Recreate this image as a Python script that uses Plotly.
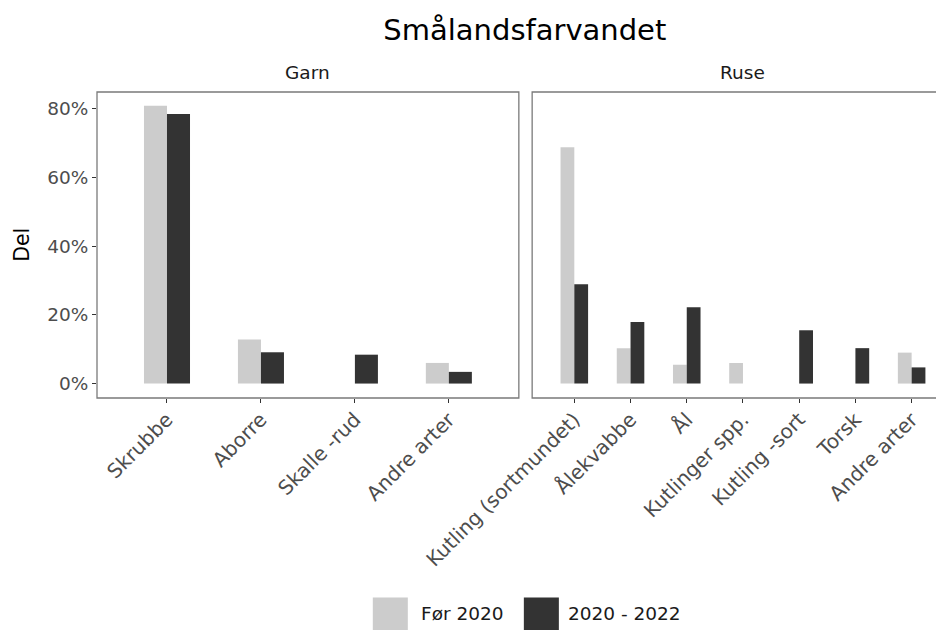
import plotly.graph_objects as go

# Data (share of catch)
GARN_ARTER = ["Skrubbe", "Aborre", "Skalle -rud", "Andre arter"]
GARN_FOR_2020 = [0.808, 0.128, None, 0.060]
GARN_2020_2022 = [0.784, 0.091, 0.084, 0.034]

RUSE_ARTER = ["Kutling (sortmundet)", "Ålekvabbe", "Ål", "Kutlinger spp.",
              "Kutling -sort", "Torsk", "Andre arter"]
RUSE_FOR_2020 = [0.687, 0.103, 0.055, 0.060, None, None, 0.090]
RUSE_2020_2022 = [0.289, 0.179, 0.222, None, 0.155, 0.103, 0.047]

PERIODS = ["Før 2020", "2020 - 2022"]
COLORS = ["#cccccc", "#333333"]
Y_TICKS = [0, 0.2, 0.4, 0.6, 0.8]

# page is drawn with the browser's 8px body margin, so targets are shifted
OFF = 8
W, H = 944, 630
ML, MR, MT = 97.3 - OFF, 0, 92 - OFF
MB = H - (397.7 - OFF)
PW, PH = W - ML - MR, H - MT - MB
FONT = "DejaVu Sans"
TXT = 18.5


def px_x(x):
    return (x - OFF - ML) / PW


def px_y(y):
    return (H - MB - (y - OFF)) / PH


fig = go.Figure()

for name, color, garn, ruse in zip(PERIODS, COLORS,
                                   [GARN_FOR_2020, GARN_2020_2022],
                                   [RUSE_FOR_2020, RUSE_2020_2022]):
    fig.add_trace(go.Bar(x=GARN_ARTER, y=garn, name=name, marker_color=color,
                         marker_line_width=0, xaxis="x", yaxis="y",
                         showlegend=False))
    fig.add_trace(go.Bar(x=RUSE_ARTER, y=ruse, name=name, marker_color=color,
                         marker_line_width=0, xaxis="x2", yaxis="y2",
                         showlegend=False))

d1 = [0, px_x(519)]
d2 = [px_x(532.3), 1]
x2_end = -0.75 + (W + OFF - 532.3) / 56.2

xcommon = dict(type="category", showgrid=False, zeroline=False, showline=False,
               automargin=False, ticks="outside", ticklen=4, tickwidth=1.2,
               tickcolor="#333333", tickangle=-45, ticklabelstandoff=-3,
               tickfont=dict(family=FONT, size=20, color="#4d4d4d"))
ycommon = dict(range=[-0.042, 0.848], showgrid=False, zeroline=False,
               showline=False, automargin=False)

fig.update_layout(
    width=W, height=H,
    margin=dict(l=ML, r=MR, t=MT, b=MB, autoexpand=False),
    paper_bgcolor="white", plot_bgcolor="white",
    barmode="group", bargap=0.51, bargroupgap=0,
    xaxis=dict(domain=d1, range=[-0.745, 3.745], anchor="y", **xcommon),
    xaxis2=dict(domain=d2, range=[-0.75, x2_end], anchor="y2", **xcommon),
    yaxis=dict(anchor="x", tickvals=Y_TICKS, tickformat=".0%", ticks="outside",
               ticklen=4, tickwidth=1.2, tickcolor="#333333",
               tickfont=dict(family=FONT, size=TXT, color="#4d4d4d"),
               **ycommon),
    yaxis2=dict(anchor="x2", showticklabels=False, ticks="", **ycommon),
    title=dict(text="Smålandsfarvandet", x=px_x(525), xref="paper", xanchor="center",
               y=1 - (30 - OFF) / H, yanchor="middle",
               font=dict(family=FONT, size=29, color="black")),
    showlegend=False,
)

# Y axis title
fig.add_annotation(text="Del", x=px_x(22), y=px_y(245), xref="paper", yref="paper",
                   showarrow=False, textangle=-90, xanchor="center", yanchor="middle",
                   font=dict(family=FONT, size=20.5, color="black"))

# Panel borders
border = dict(type="rect", line=dict(color="#7a7a7a", width=1.3), layer="above")
fig.add_shape(xref="x domain", yref="y domain", x0=0, x1=1, y0=0, y1=1, **border)
fig.add_shape(xref="x2 domain", yref="y2 domain", x0=0, x1=1.05, y0=0, y1=1, **border)

# Facet strip labels
for label, xc in [("Garn", px_x((97.3 + 519) / 2)), ("Ruse", px_x(532.3 + 421.5 / 2))]:
    fig.add_annotation(text=label, x=xc, y=px_y(73), xref="paper", yref="paper",
                       showarrow=False, xanchor="center", yanchor="middle",
                       font=dict(family=FONT, size=TXT, color="#1a1a1a"))

# Legend (large ggplot-style keys)
keys = [(373, 419, PERIODS[0], COLORS[0]), (524, 566, PERIODS[1], COLORS[1])]
for kx, tx, label, color in keys:
    fig.add_shape(type="rect", xref="paper", yref="paper",
                  x0=px_x(kx), x1=px_x(kx + 35), y0=px_y(597), y1=px_y(640),
                  fillcolor=color, line=dict(width=0))
    fig.add_annotation(text=label, x=px_x(tx), y=px_y(613), xref="paper", yref="paper",
                       showarrow=False, xanchor="left", yanchor="middle",
                       font=dict(family=FONT, size=TXT, color="#1a1a1a"))

fig.write_html("out.html")
